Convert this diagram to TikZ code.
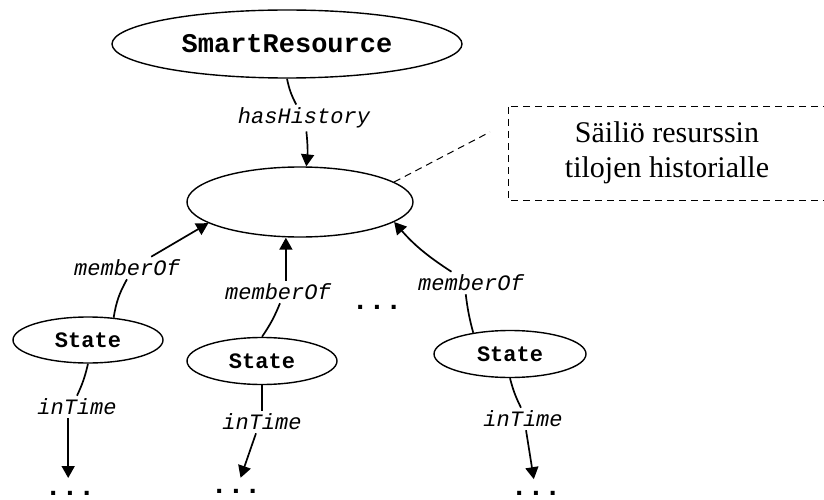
\documentclass[tikz,border=0pt]{standalone}
\usepackage{fontspec}
\setmainfont{Liberation Serif}
\setmonofont{Liberation Mono}
\usetikzlibrary{arrows.meta,shapes.geometric}

\tikzset{
  ell/.style={draw, ellipse, line width=1.4pt, inner sep=0pt},
  cls/.style={font=\ttfamily\bfseries\fontsize{22}{24}\selectfont},
  prop/.style={font=\ttfamily\itshape\fontsize{22}{24}\selectfont, inner sep=3pt},
  dots/.style={font=\ttfamily\bfseries\fontsize{28}{30}\selectfont, inner sep=0pt,
               text height=4pt, text depth=0pt},
  conn/.style={line width=1.7pt},
  arr/.style={line width=1.7pt, -{Triangle[length=12pt,width=13pt]}},
  note/.style={dash pattern=on 7pt off 5pt, line width=1pt}
}

\begin{document}
\begin{tikzpicture}[x=1pt, y=-1pt]
\clip (0,0) rectangle (824,500);
\fill[white] (0,0) rectangle (824,500);

% resource, history container and member states
\node[ell, cls, minimum width=350, minimum height=68,
      font=\ttfamily\bfseries\fontsize{27}{30}\selectfont] (sr) at (287,44) {SmartResource};
\node[ell, minimum width=226, minimum height=70] (big) at (300,202) {};
\node[ell, cls, minimum width=150, minimum height=46] (s1) at (88,340) {State};
\node[ell, cls, minimum width=150, minimum height=47] (s2) at (262,361) {State};
\node[ell, cls, minimum width=152, minimum height=47] (s3) at (510,354) {State};

% property labels
\node[prop] (hh) at (304,118) {hasHistory};
\node[prop] (m1) at (127,268) {memberOf};
\node[prop] (m2) at (278,292) {memberOf};
\node[prop] (m3) at (471,283) {memberOf};
\node[prop] (t1) at (77,407) {inTime};
\node[prop] (t2) at (262,422) {inTime};
\node[prop] (t3) at (523,419) {inTime};

% ellipsis marks
\node[dots] (d1) at (70,493) {...};
\node[dots] (d2) at (236,491) {...};
\node[dots] (d3) at (536,493) {...};
\node[dots] (dm) at (377,307) {...};

% explanatory note
\node[align=center, font=\fontsize{30}{35}\selectfont, inner sep=0pt] (txt) at (667,153)
  {Säiliö resurssin\\tilojen historialle};
\coordinate (nb1) at (508,107);
\coordinate (nb2) at (840,200);
\draw[note] (nb1) rectangle (nb2);
\coordinate (nl) at (490,132);
\draw[note] (big.12) -- (nl);

% hasHistory
\draw[conn] (sr.south) to[bend right=8] (hh.120);
\draw[arr] (hh.-80) to[bend left=6] (big.80);

% memberOf
\draw[conn] (s1.41) to[bend left=10] (m1.south);
\draw[arr] (m1.25) -- (big.193);
\draw[conn] (s2.north) to[bend right=6] (m2.-80);
\draw[arr] (m2.55) -- (m2.55 |- big.south);
\draw[conn] (s3.150) to[bend left=4] (m3.245);
\draw[arr] (m3.150) to[bend left=8] (big.-12);

% inTime
\draw[conn] (s1.south) to[bend left=6] (t1.north);
\draw[arr, shorten >=15pt] (t1.232) -- (t1.232 |- d1.center);
\draw[conn] (s2.south) -- (t2.north);
\draw[arr, shorten >=14pt] (t2.242) -- (d2.center);
\draw[conn] (s3.south) to[bend right=6] (t3.100);
\draw[arr, shorten >=14pt] (t3.-75) -- (d3.center);
\end{tikzpicture}
\end{document}
